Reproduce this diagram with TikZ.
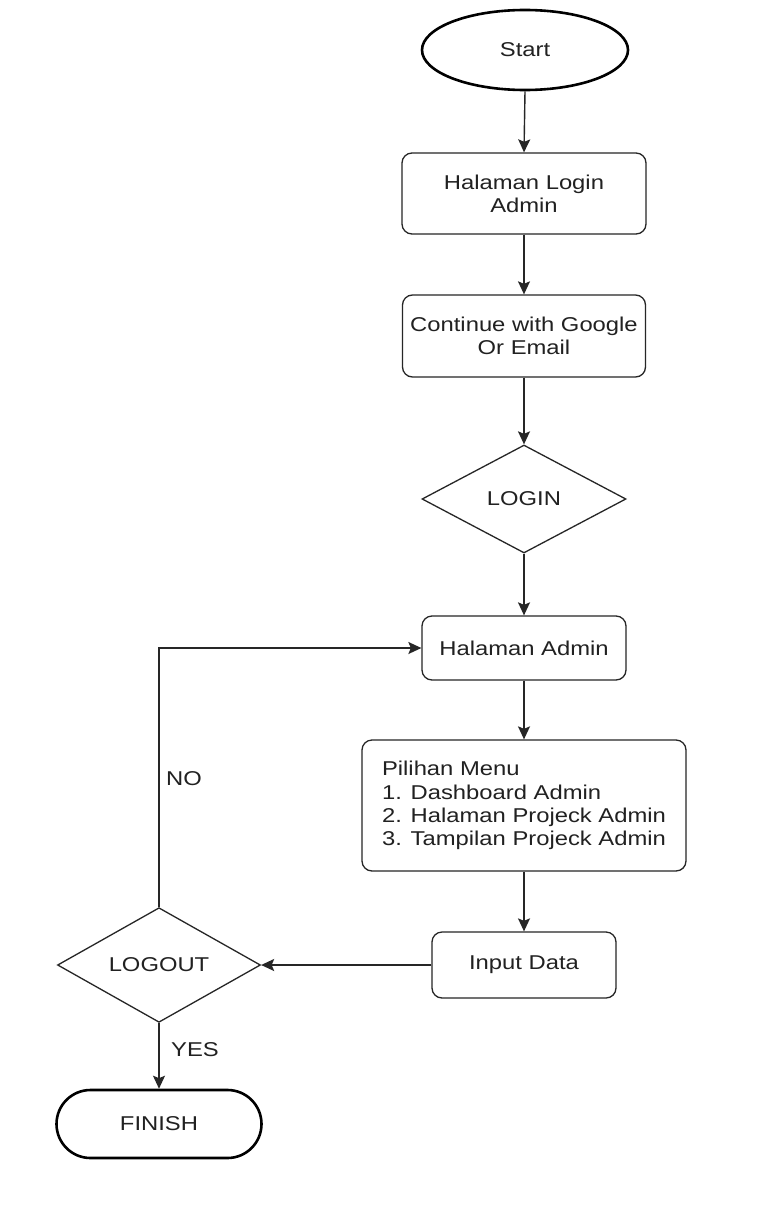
\documentclass[tikz,border=0pt]{standalone}
\usepackage{fontspec}
\setmainfont{Liberation Sans}[FakeStretch=1.19]
\usetikzlibrary{shapes.geometric,arrows.meta,positioning}
\definecolor{txt}{rgb}{0.13,0.13,0.13}
\begin{document}
\begin{tikzpicture}[x=1pt,y=-1pt,
  every node/.style={font=\fontsize{20}{23.3}\selectfont, text=txt, inner sep=2pt},
  term/.style={draw=black, ellipse, line width=2.6pt, minimum width=206pt, minimum height=80pt},
  stadium/.style={draw=black, rectangle, rounded corners=34pt, line width=2.6pt, minimum width=205pt, minimum height=68pt},
  proc/.style={draw=black!85, rectangle, rounded corners=10pt, line width=1.3pt, align=center},
  dec/.style={draw=black!85, diamond, line width=1.3pt, inner sep=0pt},
  conn/.style={draw=black!85, line width=1.4pt, -{Stealth[length=13pt,width=12pt,inset=2.5pt]}},
  lbl/.style={anchor=west, inner sep=0pt}
]
\useasboundingbox (0,0) rectangle (763,1223);
\fill[white] (0,0) rectangle (763,1223);

\node[term] (start) at (525,50) {Start};
\node[proc, minimum width=244pt, minimum height=81pt] (login) at (524,193.5) {Halaman Login\\Admin};
\node[proc, minimum width=243pt, minimum height=82pt] (cont) at (524,336) {Continue with Google\\Or Email};
\node[dec, minimum width=204pt, minimum height=108pt] (dlogin) at (524,499) {LOGIN};
\node[proc, minimum width=204pt, minimum height=64pt] (admin) at (524,648) {Halaman Admin};
\node[proc, minimum width=324pt, minimum height=131pt, align=left] (menu) at (524,805.5) {Pilihan Menu\\1. Dashboard Admin\\2. Halaman Projeck Admin\\3. Tampilan Projeck Admin};
\node[proc, minimum width=184pt, minimum height=66pt] (input) at (524,965) {Input Data};
\node[dec, minimum width=203pt, minimum height=108pt] (logout) at (159,965) {LOGOUT};
\node[stadium] (finish) at (159,1124) {FINISH};

\draw[conn] (start.south) -- (login.north);
\draw[conn] (login.south) -- (cont.north);
\draw[conn] (cont.south) -- (dlogin.north);
\draw[conn] (dlogin.south) -- (admin.north);
\draw[conn] (admin.south) -- (menu.north);
\draw[conn] (menu.south) -- (input.north);
\draw[conn] (input.west) -- (logout.east);
\draw[conn] (logout.north) |- (admin.west);
\draw[conn] (logout.south) -- (finish.north);

\node[lbl] (no) at (166,779) {NO};
\node[lbl] (yes) at (171,1050) {YES};
\end{tikzpicture}
\end{document}
